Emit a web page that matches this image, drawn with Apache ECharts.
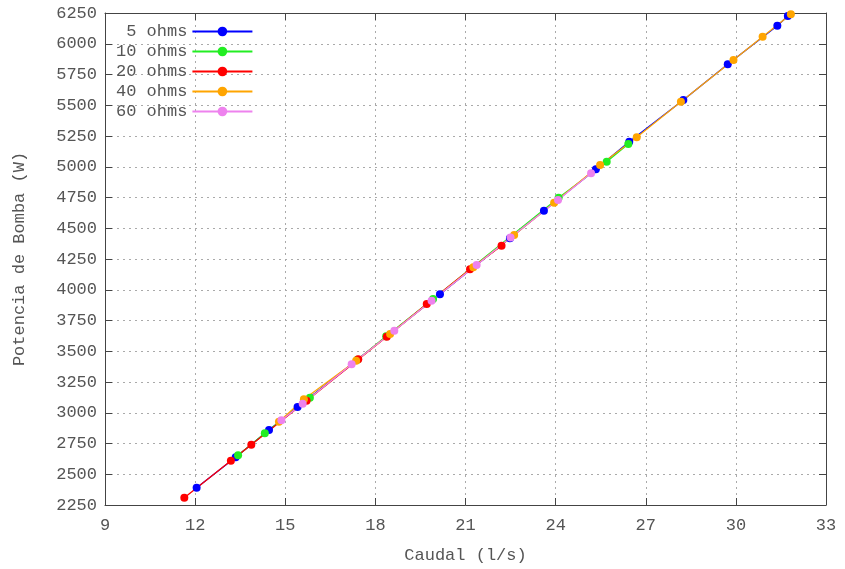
<!DOCTYPE html>
<html lang="es">
<head>
    <meta charset="UTF-8">
    <title>Potencia de Bomba vs Caudal</title>
    <script src="https://cdn.jsdelivr.net/npm/echarts@6/dist/echarts.min.js"></script>
    <style>
        html, body { margin: 0; padding: 0; background: #fff; }
        #chart { width: 845px; height: 569px; }
    </style>
</head>
<body>
    <div id="chart"></div>
    <script>
        // datos: caudal (l/s) y potencia (W)
        var nombres = ['5 ohms', '10 ohms', '20 ohms', '40 ohms', '60 ohms'];
        var colores = ['#0000ff', '#22ee22', '#ff0000', '#ffa500', '#ee82ee'];

        var caudal5 = [12.05, 13.35, 14.46, 15.41, 20.15, 22.48, 23.61, 25.34, 26.45, 28.25, 29.73, 31.38, 31.73];
        var potencia5 = [2391, 2638, 2860, 3047, 3963, 4418, 4643, 4979, 5204, 5543, 5833, 6147, 6226];

        var caudal10 = [13.43, 14.32, 15.82, 17.40, 18.36, 19.92, 24.10, 25.70, 26.42];
        var potencia10 = [2654, 2833, 3122, 3430, 3622, 3925, 4748, 5041, 5185];

        var caudal20 = [11.64, 13.19, 13.87, 15.71, 17.43, 18.38, 19.71, 21.15, 22.20];
        var potencia20 = [2309, 2610, 2740, 3098, 3434, 3618, 3884, 4166, 4358];

        var caudal40 = [14.79, 15.62, 17.36, 18.49, 21.26, 22.62, 23.95, 25.48, 26.70, 28.17, 29.92, 30.89, 31.83];
        var potencia40 = [2927, 3110, 3423, 3640, 4183, 4445, 4708, 5014, 5239, 5529, 5868, 6057, 6239];

        var caudal60 = [14.87, 15.58, 17.21, 18.63, 19.87, 21.37, 22.50, 24.08, 25.18];
        var potencia60 = [2939, 3074, 3394, 3667, 3911, 4201, 4425, 4730, 4947];

        var caudales = [caudal5, caudal10, caudal20, caudal40, caudal60];
        var potencias = [potencia5, potencia10, potencia20, potencia40, potencia60];

        var fuente = '"Liberation Mono", "DejaVu Sans Mono", monospace';
        var gris = '#555';

        var chart = echarts.init(document.getElementById('chart'));

        var series = nombres.map(function (n, i) {
            return {
                name: n,
                type: 'line',
                symbol: 'circle',
                symbolSize: 8,
                color: colores[i],
                lineStyle: { width: 1.3 },
                data: caudales[i].map(function (x, j) { return [x, potencias[i][j]]; })
            };
        });

        var ejeComun = {
            type: 'value',
            axisLine: { show: true, lineStyle: { color: '#444', width: 1 } },
            axisTick: { show: true, inside: true, length: 7, lineStyle: { color: '#444' } },
            splitLine: { show: false }
        };

        var option = {
            animation: false,
            textStyle: { fontFamily: fuente },
            grid: { left: 105, right: 19, top: 13, bottom: 64, containLabel: false, outerBoundsMode: 'none' },
            legend: {
                orient: 'vertical',
                left: 111,
                top: 18,
                align: 'right',
                itemWidth: 60,
                itemHeight: 12,
                itemGap: 3,
                data: nombres,
                formatter: function (n) { return n.length < 7 ? ' ' + n : n; },
                textStyle: { fontFamily: fuente, fontSize: 17, color: gris }
            },
            xAxis: [
                Object.assign({}, ejeComun, {
                    min: 9, max: 33, interval: 3,
                    name: 'Caudal (l/s)',
                    nameLocation: 'middle',
                    nameGap: 42,
                    nameTextStyle: { fontFamily: fuente, fontSize: 17, color: gris },
                    axisLabel: { margin: 12, fontFamily: fuente, fontSize: 17, color: gris },
                    splitLine: { show: true, lineStyle: { color: '#aaa', type: [2, 4], width: 1 } }
                }),
                Object.assign({}, ejeComun, {
                    position: 'top',
                    min: 9, max: 33, interval: 3,
                    axisLabel: { show: false }
                })
            ],
            yAxis: [
                Object.assign({}, ejeComun, {
                    min: 2250, max: 6250, interval: 250,
                    name: 'Potencia de Bomba (W)',
                    nameLocation: 'middle',
                    nameGap: 77,
                    nameTextStyle: { fontFamily: fuente, fontSize: 17, color: gris },
                    axisLabel: {
                        margin: 8, fontFamily: fuente, fontSize: 17, color: gris,
                        formatter: function (v) { return String(v); }
                    },
                    splitLine: { show: true, lineStyle: { color: '#aaa', type: [2, 4], width: 1 } }
                }),
                Object.assign({}, ejeComun, {
                    position: 'right',
                    min: 2250, max: 6250, interval: 250,
                    axisLabel: { show: false }
                })
            ],
            series: series
        };

        chart.setOption(option);
    </script>
</body>
</html>
